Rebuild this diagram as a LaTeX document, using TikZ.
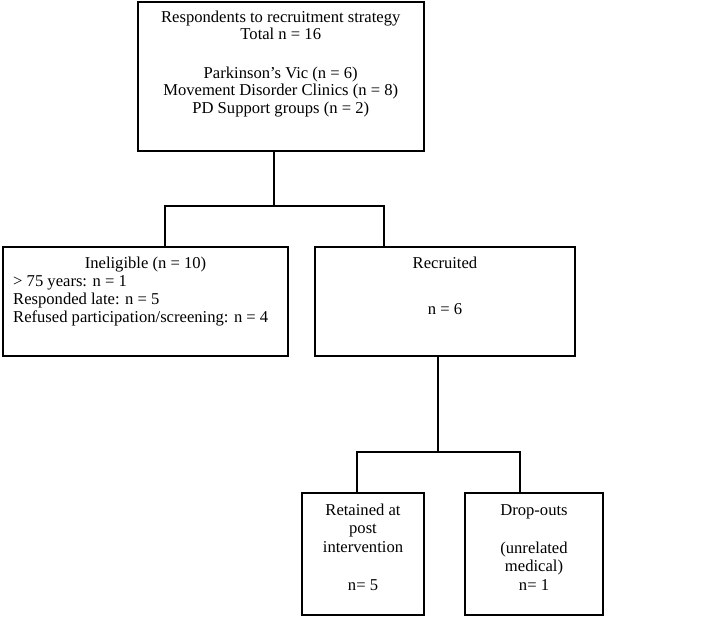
\documentclass[tikz,border=0pt]{standalone}
\usepackage{fontspec}
\setmainfont{Liberation Serif}
\begin{document}
\begin{tikzpicture}[x=1pt,y=-1pt,
  box/.style={draw=black, line width=2pt, rectangle, inner sep=0pt, fill=white},
  conn/.style={draw=black, line width=1.6pt},
  txt/.style={anchor=base, inner sep=0pt, font=\fontsize{16.6}{18.7}\selectfont},
  ltxt/.style={anchor=base west, inner sep=0pt, font=\fontsize{16.6}{18.7}\selectfont}]
\useasboundingbox (0,0) rectangle (706,617);
\fill[white] (0,0) rectangle (706,617);
% boxes
\node[box, minimum width=286.5pt, minimum height=148.5pt] (top) at (280.75,76.75) {};
\node[box, minimum width=285pt, minimum height=108.5pt] (inel) at (145.5,301.25) {};
\node[box, minimum width=260pt, minimum height=108.5pt] (rec) at (445,301.25) {};
\node[box, minimum width=122pt, minimum height=122pt] (ret) at (363,554) {};
\node[box, minimum width=138pt, minimum height=122pt] (drop) at (534,554) {};
% texts
\node[txt] (t1) at (280.75,22.5) {Respondents to recruitment strategy};
\node[txt] (t2) at (280.75,39.5) {Total n = 16};
\node[txt] (t3) at (280.75,78.5) {Parkinson’s Vic (n = 6)};
\node[txt] (t4) at (280.75,96) {Movement Disorder Clinics (n = 8)};
\node[txt] (t5) at (280.75,113.5) {PD Support groups (n = 2)};
\node[txt] (i1) at (145.5,269) {Ineligible (n = 10)};
\node[ltxt] (i2) at (13,287) {> 75 years: n = 1};
\node[ltxt] (i3) at (13,305) {Responded late: n = 5};
\node[ltxt] (i4) at (13,323) {Refused participation/screening: n = 4};
\node[txt] (r1) at (445,269) {Recruited};
\node[txt] (r2) at (445,314) {n = 6};
\node[txt] (a1) at (363,515) {Retained at};
\node[txt] (a2) at (363,533.5) {post};
\node[txt] (a3) at (363,552) {intervention};
\node[txt] (a4) at (363,590) {n= 5};
\node[txt] (d1) at (534,515) {Drop-outs};
\node[txt] (d2) at (534,553) {(unrelated};
\node[txt] (d3) at (534,571.5) {medical)};
\node[txt] (d4) at (534,590) {n= 1};
% connectors
\coordinate (j1) at (274,206);
\coordinate (l1) at (165,206);
\coordinate (r1c) at (384,206);
\coordinate (j2) at (438,452);
\coordinate (l2) at (357,452);
\coordinate (r2c) at (520,452);
\draw[conn] (top.south -| j1) -- (j1);
\draw[conn] (inel.north -| l1) -- (l1) -- (r1c) -- (rec.north -| r1c);
\draw[conn] (rec.south -| j2) -- (j2);
\draw[conn] (ret.north -| l2) -- (l2) -- (r2c) -- (drop.north -| r2c);
\end{tikzpicture}
\end{document}
